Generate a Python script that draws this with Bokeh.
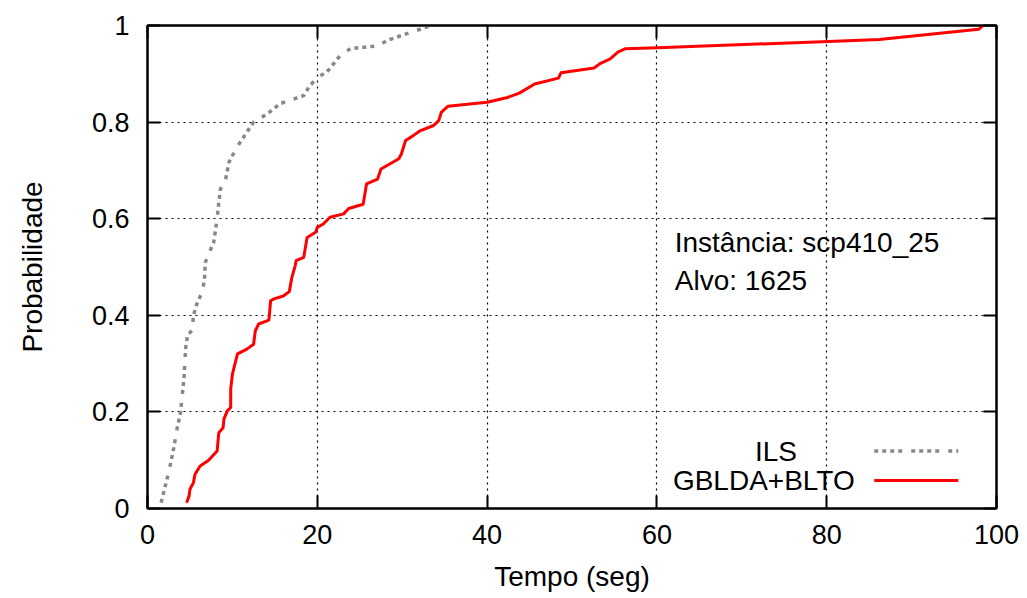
from bokeh.plotting import figure
from bokeh.models import Range1d, LinearAxis, FixedTicker, Label, Arrow
from bokeh.embed import file_html
from bokeh.resources import INLINE

# ---- data ----
ils_x = [1.6, 1.9, 2.3, 2.7, 3.1, 3.5, 3.9, 4.1, 4.3, 4.5, 4.7, 5.3, 5.4, 5.8, 6.4, 6.7,
         6.8, 7.2, 7.8, 8.2, 8.4, 8.6, 9.2, 9.6, 10.4, 10.9, 11.7, 12.5, 14.1, 15.6, 18.4,
         19.0, 20.0, 21.1, 22.7, 23.9, 27.2, 28.2, 33.4]
ils_y = [0.012, 0.033, 0.061, 0.092, 0.126, 0.167, 0.199, 0.237, 0.271, 0.333, 0.357, 0.371,
         0.399, 0.423, 0.447, 0.471, 0.509, 0.527, 0.551, 0.600, 0.634, 0.662, 0.682, 0.717,
         0.744, 0.758, 0.779, 0.800, 0.817, 0.838, 0.855, 0.872, 0.893, 0.903, 0.938, 0.952,
         0.958, 0.969, 1.000]

gb_x = [4.6, 4.9, 5.0, 5.4, 5.6, 6.2, 7.2, 8.2, 8.4, 8.9, 9.0, 9.4, 9.8, 9.8, 10.0, 10.6,
        11.7, 12.5, 12.7, 13.1, 14.3, 14.5, 14.9, 16.0, 16.7, 17.0, 17.4, 17.5, 18.4, 18.8,
        19.8, 20.0, 20.7, 21.5, 23.1, 23.7, 25.4, 25.8, 27.1, 27.5, 29.6, 29.9, 30.4, 31.3,
        32.1, 33.7, 34.3, 34.6, 35.4, 40.0, 42.4, 43.8, 45.6, 48.4, 48.7, 52.6, 53.3, 54.5,
        55.4, 56.3, 60.1, 80.2, 86.2, 97.9, 98.4]
gb_y = [0.012, 0.026, 0.040, 0.053, 0.071, 0.088, 0.100, 0.119, 0.157, 0.167, 0.185, 0.202,
        0.209, 0.247, 0.278, 0.320, 0.330, 0.340, 0.368, 0.382, 0.390, 0.430, 0.434, 0.440,
        0.449, 0.478, 0.503, 0.513, 0.520, 0.561, 0.572, 0.582, 0.589, 0.603, 0.610, 0.621,
        0.630, 0.672, 0.682, 0.703, 0.724, 0.734, 0.762, 0.772, 0.782, 0.793, 0.803, 0.820,
        0.833, 0.841, 0.851, 0.860, 0.879, 0.891, 0.902, 0.912, 0.921, 0.931, 0.945, 0.952,
        0.954, 0.967, 0.971, 0.992, 1.000]

series_names = ["ILS", "GBLDA+BLTO"]
x_ticks = [0, 20, 40, 60, 80, 100]
x_tick_labels = ["0", "20", "40", "60", "80", "100"]
y_ticks = [0, 0.2, 0.4, 0.6, 0.8, 1]
y_tick_labels = ["0", "0.2", "0.4", "0.6", "0.8", "1"]
annotation_lines = ["Instância: scp410_25", "Alvo: 1625"]
x_title = "Tempo (seg)"
y_title = "Probabilidade"

FONT = "Liberation Sans"
FS_TICK = "27px"
FS = "28px"
GRAY = "#888888"
RED = "#ff0000"
ILS_DASH = "4 4 4 4 4 4 4 9"

p = figure(frame_width=849, frame_height=483,
           min_border_left=147, min_border_right=23, min_border_top=25, min_border_bottom=82,
           x_range=Range1d(0, 100), y_range=Range1d(0, 1),
           output_backend="svg", toolbar_location=None, tools="",
           background_fill_color="white", border_fill_color="white")

p.outline_line_color = "black"
p.outline_line_width = 2

# grid
for g in (p.xgrid, p.ygrid):
    g.grid_line_color = "black"
    g.grid_line_dash = "2 4"
    g.grid_line_width = 1.2
p.xgrid.ticker = FixedTicker(ticks=x_ticks)
p.ygrid.ticker = FixedTicker(ticks=y_ticks)

def style_axis(ax, ticks, labels, show_labels=True):
    ax.ticker = FixedTicker(ticks=ticks)
    ax.axis_line_color = "black"
    ax.axis_line_width = 2
    ax.major_tick_line_color = "black"
    ax.major_tick_line_width = 2
    ax.major_tick_in = 13
    ax.major_tick_out = 0
    ax.minor_tick_line_color = None
    if show_labels:
        ax.major_label_overrides = dict(zip(ticks, labels))
        ax.major_label_text_font = FONT
        ax.major_label_text_font_size = FS_TICK
        ax.major_label_text_color = "black"
    else:
        ax.major_label_text_font_size = "1px"
        ax.major_label_text_color = None
        ax.major_label_standoff = 0
    ax.axis_label_text_font = FONT
    ax.axis_label_text_font_size = FS
    ax.axis_label_text_font_style = "normal"
    ax.axis_label_text_color = "black"

style_axis(p.xaxis[0], x_ticks, x_tick_labels)
style_axis(p.yaxis[0], y_ticks, y_tick_labels)
p.xaxis[0].axis_label = x_title
p.yaxis[0].axis_label = y_title
p.xaxis[0].major_label_standoff = 16
p.xaxis[0].axis_label_standoff = 14
p.yaxis[0].major_label_standoff = 18
p.yaxis[0].axis_label_standoff = 41

top_ax = LinearAxis()
style_axis(top_ax, x_ticks, x_tick_labels, show_labels=False)
p.add_layout(top_ax, "above")
right_ax = LinearAxis()
style_axis(right_ax, y_ticks, y_tick_labels, show_labels=False)
p.add_layout(right_ax, "right")

# curves
p.line(ils_x, ils_y, line_color=GRAY, line_width=3.5, line_dash=ILS_DASH)
p.line(gb_x, gb_y, line_color=RED, line_width=3, line_join="round")

# annotation text
p.add_layout(Label(x=62.1, y=0.551, text=annotation_lines[0], text_font=FONT,
                   text_font_size=FS, text_color="black", text_baseline="alphabetic"))
p.add_layout(Label(x=62.1, y=0.472, text=annotation_lines[1], text_font=FONT,
                   text_font_size=FS, text_color="black", text_baseline="alphabetic"))

# key (gnuplot style: text then sample)
key_rows = [(0.119, 76.5, GRAY, 3.5, ILS_DASH), (0.058, 83.3, RED, 3, "solid")]
for name, (ky, tx, col, lw, dash) in zip(series_names, key_rows):
    p.add_layout(Label(x=tx, y=ky, text=name, text_font=FONT, text_font_size=FS,
                       text_color="black", text_align="right", text_baseline="middle"))
    p.add_layout(Arrow(end=None, start=None, x_start=85.6, y_start=ky, x_end=95.5, y_end=ky,
                       line_color=col, line_width=lw, line_dash=dash))

open("out.html", "w").write(file_html(p, INLINE))
